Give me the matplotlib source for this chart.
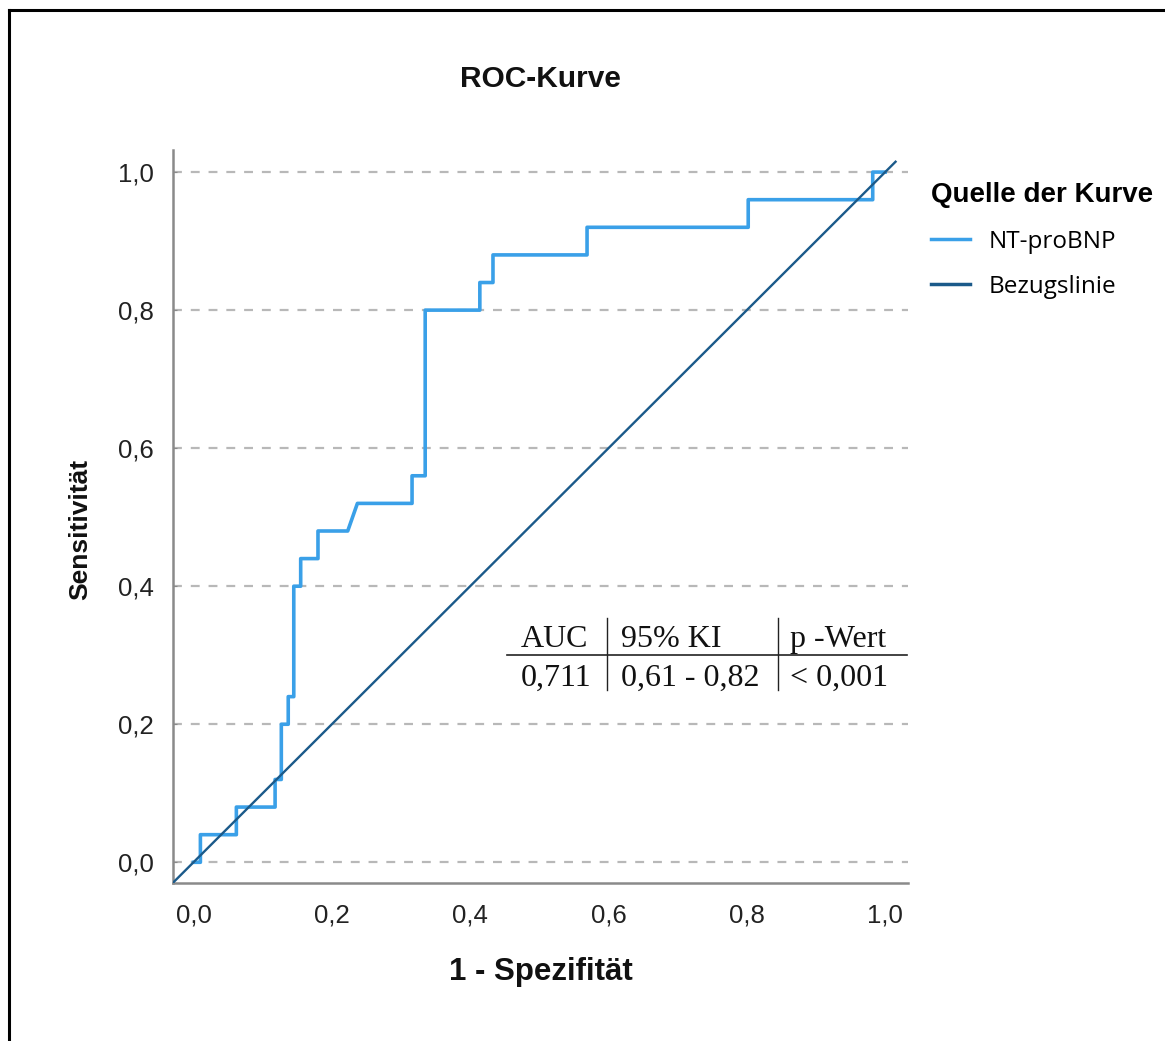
import matplotlib
matplotlib.use('Agg')
import matplotlib.pyplot as plt
from matplotlib.lines import Line2D

# ROC-Kurve NT-proBNP
fpr = [0.0, 0.01, 0.01, 0.062, 0.062, 0.118, 0.118, 0.127, 0.127, 0.137, 0.137,
       0.145, 0.145, 0.155, 0.155, 0.18, 0.18, 0.223, 0.237, 0.316, 0.316,
       0.335, 0.335, 0.414, 0.414, 0.433, 0.433, 0.569, 0.569, 0.802, 0.802,
       0.982, 0.982, 1.0]
tpr = [0.0, 0.0, 0.04, 0.04, 0.08, 0.08, 0.12, 0.12, 0.20, 0.20, 0.24,
       0.24, 0.40, 0.40, 0.44, 0.44, 0.48, 0.48, 0.52, 0.52, 0.56,
       0.56, 0.80, 0.80, 0.84, 0.84, 0.88, 0.88, 0.92, 0.92, 0.96,
       0.96, 1.0, 1.0]
ref_x = [-0.03, 1.015]

ticks = [0.0, 0.2, 0.4, 0.6, 0.8, 1.0]
tick_labels = ['0,0', '0,2', '0,4', '0,6', '0,8', '1,0']

table_header = ['AUC', '95% KI', 'p -Wert']
table_row = ['0,711', '0,61 - 0,82', '< 0,001']

W, H = 1165, 1041
fig = plt.figure(figsize=(W / 100, H / 100), dpi=100)
ax = fig.add_axes([173 / W, 1 - 883 / H, (908 - 173) / W, (883 - 150) / H])

ax.plot(fpr, tpr, color='#3aa0e8', lw=2.6, label='NT-proBNP', zorder=3)
ax.plot(ref_x, ref_x, color='#1b5a8a', lw=1.7, label='Bezugslinie', zorder=4)

ax.set_xlim(-0.0296, 1.033)
ax.set_ylim(-0.03, 1.032)
for t in ticks:
    ax.axhline(t, color='#b8b8b8', lw=1.6, ls=(0, (4, 4)), zorder=1)

for s in ['top', 'right']:
    ax.spines[s].set_visible(False)
for s in ['left', 'bottom']:
    ax.spines[s].set_color('#8a8a8a')
    ax.spines[s].set_linewidth(1.8)

tick_font = dict(family='Liberation Sans', size=18.5, color='#222222')
ax.set_xticks(ticks)
ax.set_xticklabels(tick_labels, fontdict=tick_font)
ax.set_yticks(ticks)
ax.set_yticklabels(tick_labels, fontdict=tick_font)
ax.tick_params(axis='x', length=0, pad=15)
ax.tick_params(axis='y', direction='in', length=3, color='#8a8a8a', pad=14)

lab_font = dict(family='Liberation Sans', weight='bold', color='#111111')
fig.text(541 / W, 1 - 972 / H, '1 - Spezifität', ha='center', va='center', size=22.5, **lab_font)
fig.text(80 / W, 1 - 529 / H, 'Sensitivität', ha='center', va='center', rotation=90, size=19, **lab_font)
fig.text(540 / W, 1 - 79 / H, 'ROC-Kurve', ha='center', va='center', size=21.5, **lab_font)

leg = ax.legend(loc='upper left', bbox_to_anchor=(921 / W, 1 - 172 / H),
                bbox_transform=fig.transFigure, frameon=False,
                title='Quelle der Kurve', handlelength=1.6, handletextpad=0.8,
                labelspacing=0.85, borderaxespad=0,
                prop=dict(family='Open Sans', size=17.5),
                title_fontproperties=dict(family='Liberation Sans', weight='bold', size=20))
leg._legend_box.align = 'left'
leg._legend_box.sep = 16
for h in leg.get_lines():
    h.set_linewidth(2.5)

# Tabelle im Diagramm
serif = dict(family='Liberation Serif', size=23, color='#111111')
fig.add_artist(Line2D([507 / W, 907 / W], [1 - 655 / H, 1 - 655 / H], color='#222222', lw=1.2))
for xv in [607, 778]:
    fig.add_artist(Line2D([xv / W, xv / W], [1 - 618 / H, 1 - 690 / H], color='#222222', lw=1.0))
col_x = [521, 621, 790]
for xv, a, b in zip(col_x, table_header, table_row):
    fig.text(xv / W, 1 - 647 / H, a, ha='left', va='baseline', **serif)
    fig.text(xv / W, 1 - 686 / H, b, ha='left', va='baseline', **serif)

# Rahmen
fig.add_artist(Line2D([8.5 / W, 8.5 / W], [0, 1 - 10 / H], color='black', lw=2.2))
fig.add_artist(Line2D([8.5 / W, 1], [1 - 10 / H, 1 - 10 / H], color='black', lw=2.2))

fig.savefig('out.png', dpi=100)
